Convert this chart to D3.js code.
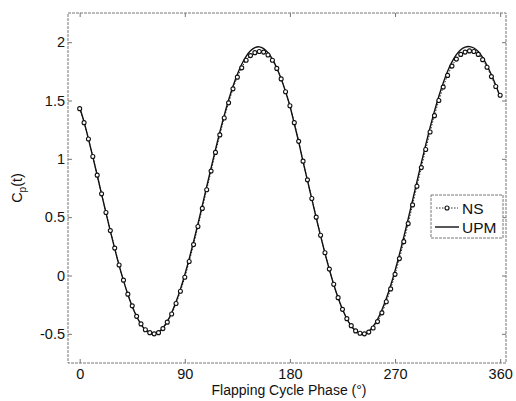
<!DOCTYPE html>
<html>
<head>
<meta charset="utf-8">
<script src="https://cdn.jsdelivr.net/npm/d3@7"></script>
<style>
  html, body { margin: 0; padding: 0; background: #fff; }
  svg { display: block; font-family: "Liberation Sans", Arial, Helvetica, sans-serif; }
</style>
</head>
<body>
<svg id="chart" width="516" height="401"></svg>
<script>
// ---- data ----
const phase = [0,3.75,7.5,11.25,15,18.75,22.5,26.25,30,33.75,37.5,41.25,45,48.75,52.5,56.25,60,63.75,67.5,71.25,75,78.75,82.5,86.25,90,93.75,97.5,101.25,105,108.75,112.5,116.25,120,123.75,127.5,131.25,135,138.75,142.5,146.25,150,153.75,157.5,161.25,165,168.75,172.5,176.25,180,183.75,187.5,191.25,195,198.75,202.5,206.25,210,213.75,217.5,221.25,225,228.75,232.5,236.25,240,243.75,247.5,251.25,255,258.75,262.5,266.25,270,273.75,277.5,281.25,285,288.75,292.5,296.25,300,303.75,307.5,311.25,315,318.75,322.5,326.25,330,333.75,337.5,341.25,345,348.75,352.5,356.25,360];

const upm = [1.44,1.317,1.171,1.017,0.859,0.698,0.538,0.381,0.230,0.087,-0.044,-0.162,-0.265,-0.351,-0.418,-0.466,-0.493,-0.500,-0.485,-0.449,-0.394,-0.319,-0.226,-0.117,0.007,0.143,0.289,0.443,0.601,0.762,0.922,1.079,1.230,1.373,1.504,1.622,1.725,1.811,1.878,1.926,1.953,1.960,1.945,1.909,1.854,1.779,1.686,1.577,1.453,
  1.30,1.145,0.975,0.816,0.655,0.495,0.340,0.191,0.051,-0.077,-0.191,-0.290,-0.371,-0.433,-0.475,-0.497,-0.498,-0.477,-0.436,-0.376,-0.296,-0.198,-0.085,0.042,0.181,0.330,0.485,0.644,0.805,0.965,1.120,1.269,1.409,1.537,1.651,1.750,1.831,1.893,1.935,1.957,1.962,1.950,1.920,1.870,1.800,1.720,1.630,1.530];

const ns = [1.43,1.31,1.17,1.02,0.86,0.70,0.54,0.385,0.235,0.09,-0.04,-0.16,-0.26,-0.35,-0.415,-0.465,-0.49,-0.50,-0.49,-0.455,-0.40,-0.33,-0.24,-0.135,-0.015,0.12,0.265,0.42,0.575,0.735,0.895,1.055,1.205,1.35,1.48,1.60,1.70,1.78,1.845,1.885,1.91,1.92,1.915,1.89,1.845,1.775,1.685,1.575,1.455,
  1.31,1.15,0.98,0.82,0.66,0.50,0.345,0.195,0.055,-0.075,-0.19,-0.29,-0.37,-0.43,-0.475,-0.495,-0.50,-0.485,-0.45,-0.395,-0.32,-0.225,-0.115,0.01,0.145,0.29,0.445,0.605,0.765,0.925,1.08,1.23,1.37,1.50,1.615,1.715,1.795,1.855,1.895,1.915,1.925,1.92,1.895,1.85,1.785,1.705,1.62,1.545];

const xTicks = [0, 90, 180, 270, 360];
const yTicks = [-0.5, 0, 0.5, 1, 1.5, 2];
const seriesNames = ["NS", "UPM"];
const xLabel = "Flapping Cycle Phase (°)";

// ---- layout ----
const svg = d3.select("#chart");
const L = 68, R = 506, T = 13, B = 363;
const x = d3.scaleLinear().domain([-10, 365]).range([L, R]);
const y = d3.scaleLinear().domain([-0.75, 2.25]).range([B, T]);

const axisColor = "#777";
const fontSize = 14.5;

// frame
svg.append("rect")
  .attr("x", L).attr("y", T).attr("width", R - L).attr("height", B - T)
  .attr("fill", "none").attr("stroke", axisColor).attr("stroke-width", 1)
  .attr("stroke-dasharray", "3,1");

function styleAxis(g) {
  g.select(".domain").remove();
  g.selectAll(".tick line").attr("stroke", axisColor);
  g.selectAll(".tick text").attr("fill", "#111").attr("font-size", fontSize)
    .attr("font-family", "Liberation Sans, Arial, sans-serif");
}

svg.append("g").attr("transform", `translate(0,${B})`)
  .call(d3.axisBottom(x).tickValues(xTicks).tickSizeInner(-4).tickSizeOuter(0).tickPadding(6).tickFormat(d3.format("d")))
  .call(styleAxis);
svg.append("g").attr("transform", `translate(0,${T})`)
  .call(d3.axisTop(x).tickValues(xTicks).tickSizeInner(-4).tickSizeOuter(0).tickFormat(""))
  .call(styleAxis);
svg.append("g").attr("transform", `translate(${L},0)`)
  .call(d3.axisLeft(y).tickValues(yTicks).tickSizeInner(-4).tickSizeOuter(0).tickPadding(3).tickFormat(d => String(d)))
  .call(styleAxis);
svg.append("g").attr("transform", `translate(${R},0)`)
  .call(d3.axisRight(y).tickValues(yTicks).tickSizeInner(-4).tickSizeOuter(0).tickFormat(""))
  .call(styleAxis);

// data
const upmData = phase.map((p, i) => [p, upm[i]]);
const nsData = phase.map((p, i) => [p, ns[i]]);
const line = d3.line().x(d => x(d[0])).y(d => y(d[1])).curve(d3.curveCatmullRom);

svg.append("path").datum(nsData).attr("d", line)
  .attr("fill", "none").attr("stroke", "#333").attr("stroke-width", 1)
  .attr("stroke-dasharray", "1.5,1.5");

svg.append("path").datum(upmData).attr("d", line)
  .attr("fill", "none").attr("stroke", "#111").attr("stroke-width", 1.4);

svg.append("g").selectAll("circle").data(nsData).join("circle")
  .attr("cx", d => x(d[0])).attr("cy", d => y(d[1])).attr("r", 2)
  .attr("fill", "#fff").attr("stroke", "#111").attr("stroke-width", 1.1);

// axis titles
svg.append("text")
  .attr("x", 289).attr("y", 395)
  .attr("text-anchor", "middle").attr("font-size", 14).attr("fill", "#111")
  .text(xLabel);

const yl = svg.append("text")
  .attr("transform", "translate(22,188) rotate(-90)")
  .attr("text-anchor", "middle").attr("font-size", 14.5).attr("fill", "#111");
yl.append("tspan").text("C");
yl.append("tspan").attr("font-size", 10).attr("dy", 4).text("p");
yl.append("tspan").attr("dy", -4).text("(t)");

// legend
const lg = svg.append("g");
lg.append("rect").attr("x", 431).attr("y", 195).attr("width", 72).attr("height", 43)
  .attr("fill", "#fff").attr("stroke", "#777").attr("stroke-width", 1).attr("stroke-dasharray", "3,1");
const rows = [{name: seriesNames[0], yy: 208}, {name: seriesNames[1], yy: 227}];
// NS sample
lg.append("line").attr("x1", 436).attr("x2", 458).attr("y1", rows[0].yy).attr("y2", rows[0].yy)
  .attr("stroke", "#333").attr("stroke-dasharray", "1.5,1.5");
lg.append("circle").attr("cx", 447).attr("cy", rows[0].yy).attr("r", 2)
  .attr("fill", "#fff").attr("stroke", "#111").attr("stroke-width", 1.1);
// UPM sample
lg.append("line").attr("x1", 435).attr("x2", 459).attr("y1", rows[1].yy).attr("y2", rows[1].yy)
  .attr("stroke", "#111").attr("stroke-width", 1.4);
lg.selectAll("text.lt").data(rows).join("text").attr("class", "lt")
  .attr("x", 462).attr("y", d => d.yy + 5.5).attr("font-size", 15.5).attr("fill", "#111")
  .text(d => d.name);
</script>
</body>
</html>
